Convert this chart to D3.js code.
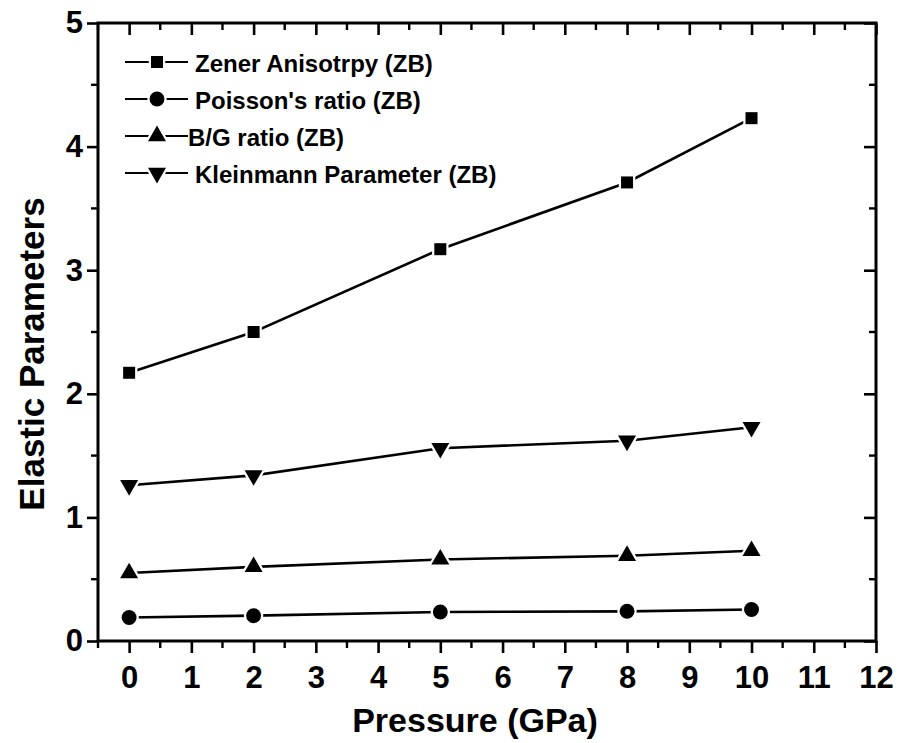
<!DOCTYPE html>
<html><head><meta charset="utf-8">
<script src="https://cdn.jsdelivr.net/npm/d3@7"></script>
<style>body{margin:0;background:#fff}svg{display:block}</style>
</head><body>
<svg id="c" width="900" height="743"></svg>
<script>
const pressure = [0, 2, 5, 8, 10];
const zener = [2.17, 2.50, 3.17, 3.71, 4.23];
const poisson = [0.19, 0.205, 0.235, 0.24, 0.255];
const bgRatio = [0.55, 0.60, 0.66, 0.69, 0.73];
const kleinmann = [1.26, 1.34, 1.56, 1.62, 1.73];
const seriesNames = ["Zener Anisotrpy (ZB)", "Poisson's ratio (ZB)", "B/G ratio (ZB)", "Kleinmann Parameter (ZB)"];
const xTicks = [0,1,2,3,4,5,6,7,8,9,10,11,12];
const yTicks = [0,1,2,3,4,5];

(function(){
const svg = d3.select("#c");
const L = 98, R = 876, T = 23, B = 641;
const x = d3.scaleLinear().domain([-0.5, 12]).range([L, R]);
const y = d3.scaleLinear().domain([0, 5]).range([B, T]);
const font = "'Liberation Sans', Arial, sans-serif";

const series = [
  {name: seriesNames[0], vals: zener, sym: d3.symbolSquare, size: 144},
  {name: seriesNames[1], vals: poisson, sym: d3.symbolCircle, size: 175},
  {name: seriesNames[2], vals: bgRatio, sym: d3.symbolTriangle, size: 140},
  {name: seriesNames[3], vals: kleinmann, sym: "down", size: 140}
];
function symPath(s){
  if (s.sym === "down") return d3.symbol().type(d3.symbolTriangle).size(s.size)();
  return d3.symbol().type(s.sym).size(s.size)();
}

const line = d3.line().x(d=>x(d[0])).y(d=>y(d[1]));
series.forEach(s=>{
  svg.append("path").datum(pressure.map((p,i)=>[p,s.vals[i]]))
    .attr("d", line).attr("fill","none").attr("stroke","#000").attr("stroke-width",2.6);
});
series.forEach(s=>{
  svg.append("g").selectAll("path").data(pressure.map((p,i)=>[p,s.vals[i]])).join("path")
    .attr("d", symPath(s))
    .attr("transform", d=>`translate(${x(d[0])},${y(d[1])})` + (s.sym==="down"?" rotate(180)":""))
    .attr("fill","#000").attr("stroke","#fff").attr("stroke-width",4.5)
    .attr("paint-order","stroke");
});

const xMinor = d3.range(-0.5, 12.01, 0.5).filter(v=>!Number.isInteger(v));
const yMinor = d3.range(0.5, 5, 1);
const axW = 3;
const axB = d3.axisBottom(x).tickValues(xTicks).tickSize(12).tickPadding(13).tickFormat(d3.format("d"));
const gB = svg.append("g").attr("transform",`translate(0,${B})`).call(axB);
const axT = d3.axisTop(x).tickValues(xTicks).tickSize(-12).tickFormat("");
const gT = svg.append("g").attr("transform",`translate(0,${T})`).call(axT);
const axL = d3.axisLeft(y).tickValues(yTicks).tickSize(11).tickPadding(4).tickFormat(d3.format("d"));
const gL = svg.append("g").attr("transform",`translate(${L},0)`).call(axL);
const axR = d3.axisRight(y).tickValues(yTicks).tickSize(-12).tickFormat("");
const gR = svg.append("g").attr("transform",`translate(${R},0)`).call(axR);
[gB,gT,gL,gR].forEach(g=>{
  g.select(".domain").remove();
  g.selectAll(".tick line").attr("stroke-width",2.6).attr("stroke","#000");
  g.selectAll("text").attr("font-family",font).attr("font-weight","bold").attr("font-size",31).attr("fill","#000");
});
svg.append("rect").attr("x",L).attr("y",T).attr("width",R-L).attr("height",B-T)
  .attr("fill","none").attr("stroke","#000").attr("stroke-width",axW);
const mt = 7;
svg.append("g").selectAll("line").data(xMinor).join("line")
  .attr("x1",d=>x(d)).attr("x2",d=>x(d)).attr("y1",B).attr("y2",B+mt).attr("stroke","#000").attr("stroke-width",2.4);
svg.append("g").selectAll("line").data(xMinor).join("line")
  .attr("x1",d=>x(d)).attr("x2",d=>x(d)).attr("y1",T).attr("y2",T+mt).attr("stroke","#000").attr("stroke-width",2.4);
svg.append("g").selectAll("line").data(yMinor).join("line")
  .attr("x1",L-mt).attr("x2",L).attr("y1",d=>y(d)).attr("y2",d=>y(d)).attr("stroke","#000").attr("stroke-width",2.4);
svg.append("g").selectAll("line").data(yMinor).join("line")
  .attr("x1",R-mt).attr("x2",R).attr("y1",d=>y(d)).attr("y2",d=>y(d)).attr("stroke","#000").attr("stroke-width",2.4);

svg.append("text").attr("x",475).attr("y",732).attr("text-anchor","middle")
  .attr("font-family",font).attr("font-weight","bold").attr("font-size",34).text("Pressure (GPa)");
svg.append("text").attr("transform",`translate(44,354) rotate(-90)`).attr("text-anchor","middle")
  .attr("font-family",font).attr("font-weight","bold").attr("font-size",35).text("Elastic Parameters");

const legY = [62, 99, 136, 173];
series.forEach((s,i)=>{
  const g = svg.append("g");
  g.append("line").attr("x1",125).attr("x2",188).attr("y1",legY[i]).attr("y2",legY[i]).attr("stroke","#000").attr("stroke-width",2);
  g.append("path").attr("d",symPath(s))
    .attr("transform",`translate(157,${legY[i]})`+(s.sym==="down"?" rotate(180)":""))
    .attr("fill","#000").attr("stroke","#fff").attr("stroke-width",4.5).attr("paint-order","stroke");
  g.append("text").attr("x", i===2?188:195).attr("y",legY[i]+10)
    .attr("font-family",font).attr("font-weight","bold").attr("font-size",24).text(s.name);
});
})();
</script>
</body></html>
